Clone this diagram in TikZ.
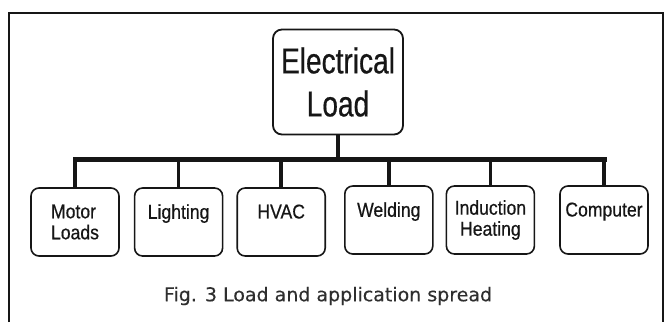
\documentclass[tikz,border=0pt]{standalone}
\usepackage{fontspec}
\setmainfont{Liberation Sans}
\newfontfamily\headfont[FakeStretch=0.78, FakeBold=0.5]{Liberation Sans}
\newfontfamily\leaffont[FakeStretch=0.88, FakeBold=0.5]{Liberation Sans}
\newfontfamily\capfont[FakeBold=0.3]{DejaVu Sans}
\usepackage{tikz}
\usetikzlibrary{positioning}
\definecolor{inkblack}{HTML}{161616}
\definecolor{capgray}{HTML}{2E2E2E}
\tikzset{
  rootbox/.style={draw=inkblack, line width=1.8pt, rounded corners=9pt, fill=white,
                  minimum width=130pt, minimum height=105pt, inner sep=0pt,
                  font=\headfont\fontsize{36}{43}\selectfont, align=center, text=inkblack},
  leafbox/.style={draw=inkblack, line width=1.6pt, rounded corners=8pt, fill=white,
                  minimum width=88pt, minimum height=68pt, inner sep=0pt,
                  font=\leaffont\fontsize{20}{21}\selectfont, align=center, text=inkblack},
  busline/.style={draw=inkblack, line width=5pt, line cap=rect},
  dropline/.style={draw=inkblack, line width=3.5pt},
}

\begin{document}
\begin{tikzpicture}[x=1pt, y=-1pt]
  \useasboundingbox (0,0) rectangle (667,322);

  %% outer frame (open at the bottom)
  \draw[inkblack, line width=1.6pt] (9,322) -- (9,13) -- (663,13) -- (663,322);

  %% root
  \node[rootbox] (load) at (338,82) {Electrical\\Load};

  %% leaves
  \node[leafbox, align=left] (motor) at (75,222) {Motor\\Loads};
  \node[leafbox, right=14pt of motor] (light) {Lighting\\\mbox{}};
  \node[leafbox, right=13pt of light] (hvac) {HVAC\\\mbox{}};
  \node[leafbox, right=18pt of hvac, yshift=2pt] (weld) {Welding\\\mbox{}};
  \node[leafbox, right=12pt of weld] (induct) {Induction\\Heating};
  \node[leafbox, right=24pt of induct] (comp) {Computer\\\mbox{}};

  %% bus bar
  \coordinate (bus) at (0,159);
  \draw[dropline] (load.south) -- (load.south |- bus);
  \draw[busline] (motor.north |- bus) -- (comp.north |- bus);
  \foreach \leaf in {motor, light, hvac, weld, induct, comp}
    \draw[dropline] (\leaf.north |- bus) -- (\leaf.north);

  %% caption
  \node[font=\capfont\fontsize{19}{22}\selectfont, text=capgray] (cap) at (328,296)
    {Fig. 3 Load and application spread};

\end{tikzpicture}
\end{document}
